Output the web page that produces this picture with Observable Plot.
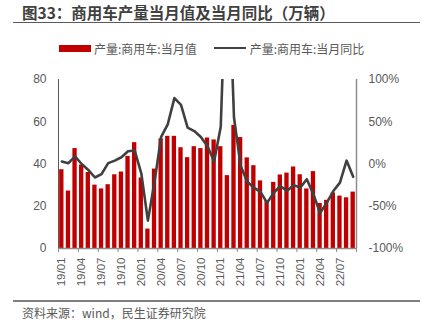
<!DOCTYPE html>
<html>
<head>
<meta charset="utf-8">
<script src="https://cdn.jsdelivr.net/npm/d3@7"></script>
<script src="https://cdn.jsdelivr.net/npm/@observablehq/plot@0.6"></script>
<style>
  html, body { margin: 0; padding: 0; background: #fff; }
  #wrap { position: relative; width: 432px; height: 326px; overflow: hidden; font-family: "Noto Sans CJK SC", "Liberation Sans", sans-serif; }
  #title { position: absolute; left: 22px; top: 1px; font-size: 15.5px; font-weight: bold; color: #404040; line-height: 22px; white-space: nowrap; }
  #rule1 { position: absolute; left: 13px; top: 22px; width: 407px; height: 0; border-top: 1.5px solid #595959; }
  #legend { position: absolute; left: 59px; top: 39px; height: 18px; font-size: 12px; color: #595959; display: flex; align-items: center; white-space: nowrap; }
  .sw-bar { width: 32px; height: 7px; background: #C00000; margin-right: 3px; }
  .sw-line { width: 32px; height: 2.5px; background: #404040; margin-left: 17px; margin-right: 4px; }
  #chart { position: absolute; left: 0; top: 64px; width: 432px; }
  #chart svg { position: absolute; left: 0; top: 0; }
  #rule2 { position: absolute; left: 13px; top: 300px; width: 407px; height: 0; border-top: 2px solid #7f7f7f; }
  #source { position: absolute; left: 22px; top: 304px; font-size: 12px; color: #595959; line-height: 18px; white-space: nowrap; }
</style>
</head>
<body>
<div id="wrap">
  <div id="title">图33：商用车产量当月值及当月同比（万辆）</div>
  <div id="rule1"></div>
  <div id="legend"><span class="sw-bar"></span><span>产量:商用车:当月值</span><span class="sw-line"></span><span>产量:商用车:当月同比</span></div>
  <div id="chart"></div>
  <div id="rule2"></div>
  <div id="source">资料来源：wind，民生证券研究院</div>
</div>
<script>
const months = [
  "19/01","19/02","19/03","19/04","19/05","19/06","19/07","19/08","19/09","19/10","19/11","19/12",
  "20/01","20/02","20/03","20/04","20/05","20/06","20/07","20/08","20/09","20/10","20/11","20/12",
  "21/01","21/02","21/03","21/04","21/05","21/06","21/07","21/08","21/09","21/10","21/11","21/12",
  "22/01","22/02","22/03","22/04","22/05","22/06","22/07","22/08","22/09"
];
const output = [
  37.3, 27.2, 47.3, 39.5, 36.0, 30.0, 28.2, 30.2, 34.9, 36.2, 43.6, 50.1,
  33.4, 9.2, 37.6, 51.9, 53.1, 53.1, 47.7, 43.0, 48.2, 47.3, 52.3, 51.4,
  48.2, 34.5, 58.3, 52.5, 42.9, 39.2, 32.0, 22.6, 31.3, 34.8, 35.7, 38.6,
  34.9, 28.2, 36.4, 21.3, 22.8, 26.3, 24.8, 24.0, 26.7
];
const yoy = [
  3, 1, 9, 0, -7, -16, -12, 1, 4, 8, 15, 16,
  -11, -67, -21, 32, 47, 78, 70, 43, 39, 32, 21, 3,
  44, 275, 55, -2, -21, -28, -33, -46, -34, -26, -32, -25,
  -28, -18, -36, -58, -46, -32, -22, 4, -15
];
const tickLabels = ["19/01","19/04","19/07","19/10","20/01","20/04","20/07","20/10","21/01","21/04","21/07","21/10","22/01","22/04","22/07"];
const leftTicks = [0, 20, 40, 60, 80];
const rightTicks = [-100, -50, 0, 50, 100];

const data = months.map((m, i) => ({i, month: m, output: output[i], yoy: yoy[i]}));
const n = months.length;
const labelPos = tickLabels.map(l => months.indexOf(l) + 0.5);
const tickPos = tickLabels.map(l => months.indexOf(l)).concat([n]);

const common = {
  width: 432, height: 234,
  marginTop: 15, marginBottom: 50, marginLeft: 58, marginRight: 76,
  style: {fontFamily: "'Liberation Sans', Arial, sans-serif", fontSize: "12px", color: "#595959", background: "transparent", overflow: "visible"},
  x: {type: "linear", domain: [0, n], axis: null, label: null}
};

const p1 = Plot.plot({
  ...common,
  y: {domain: [0, 80], axis: null, label: null},
  marks: [
    Plot.rectY(data, {x1: "i", x2: d => d.i + 1, y: "output", fill: "#C00000", insetLeft: 1.15, insetRight: 1.15}),
    Plot.axisY({anchor: "left", label: null, ticks: leftTicks, tickSize: 0, tickPadding: 12, fontSize: 12}),
    Plot.axisX({anchor: "bottom", label: null, ticks: tickPos, tickSize: 4, tickFormat: () => "", stroke: "#8c8c8c"}),
    Plot.axisX({anchor: "bottom", label: null, ticks: labelPos, tickSize: 0, tickPadding: 9, tickRotate: -90, fontSize: 11.5,
      tickFormat: d => months[Math.floor(d)]}),
    Plot.ruleX([0], {stroke: "#595959", strokeWidth: 1}),
    Plot.ruleY([0], {stroke: "#8c8c8c", strokeWidth: 1.5})
  ]
});

const p2 = Plot.plot({
  ...common,
  y: {domain: [-100, 100], axis: null, label: null},
  marks: [
    Plot.line(data, {x: d => d.i + 0.5, y: "yoy", stroke: "#404040", strokeWidth: 2.6, clip: true}),
    Plot.ruleX([n], {stroke: "#8c8c8c", strokeWidth: 1.5}),
    Plot.axisY({anchor: "right", label: null, ticks: rightTicks, tickSize: 0, tickPadding: 12, fontSize: 12, tickFormat: d => d + "%"})
  ]
});

const chart = document.getElementById("chart");
chart.appendChild(p1);
chart.appendChild(p2);
</script>
</body>
</html>
